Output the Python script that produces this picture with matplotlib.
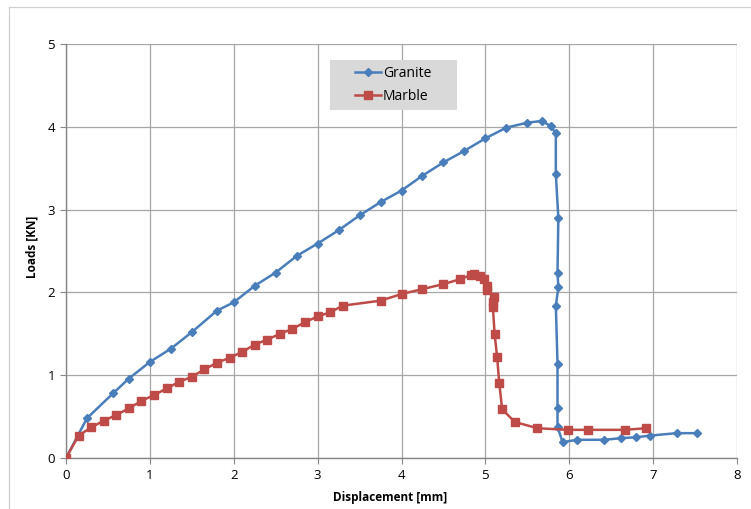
import matplotlib
matplotlib.use("Agg")
import matplotlib.pyplot as plt
from matplotlib.patches import Rectangle
from matplotlib.lines import Line2D

granite_x = [0, 0.25, 0.56, 0.75, 1.0, 1.25, 1.5, 1.8, 2.0, 2.25, 2.5, 2.75, 3.0, 3.25, 3.5, 3.75, 4.0,
             4.25, 4.5, 4.75, 5.0, 5.25, 5.5, 5.67, 5.78, 5.84, 5.84, 5.87, 5.86, 5.87, 5.84, 5.86, 5.86, 5.86,
             5.92, 6.09, 6.42, 6.62, 6.79, 6.96, 7.28, 7.52]
granite_y = [0, 0.48, 0.78, 0.96, 1.16, 1.32, 1.52, 1.78, 1.88, 2.08, 2.24, 2.44, 2.59, 2.75, 2.93, 3.09, 3.23,
             3.41, 3.57, 3.71, 3.86, 3.99, 4.05, 4.07, 4.01, 3.92, 3.43, 2.90, 2.24, 2.06, 1.84, 1.14, 0.60, 0.38,
             0.19, 0.22, 0.22, 0.24, 0.25, 0.27, 0.30, 0.30]

marble_x = [0, 0.15, 0.30, 0.45, 0.60, 0.75, 0.90, 1.05, 1.20, 1.35, 1.50, 1.65, 1.80, 1.95, 2.10, 2.25,
            2.40, 2.55, 2.70, 2.85, 3.0, 3.15, 3.30, 3.75, 4.0, 4.25, 4.5, 4.70, 4.83, 4.87, 4.93, 4.98,
            5.02, 5.02, 5.10, 5.09, 5.09, 5.11, 5.14, 5.165, 5.20, 5.35, 5.62, 5.98, 6.22, 6.66, 6.92]
marble_y = [0, 0.27, 0.37, 0.45, 0.52, 0.60, 0.69, 0.76, 0.84, 0.92, 0.98, 1.07, 1.15, 1.21, 1.28, 1.37,
            1.43, 1.50, 1.56, 1.64, 1.71, 1.76, 1.84, 1.90, 1.98, 2.04, 2.10, 2.16, 2.21, 2.22, 2.20, 2.16,
            2.08, 2.03, 1.95, 1.89, 1.82, 1.50, 1.22, 0.91, 0.59, 0.435, 0.36, 0.34, 0.34, 0.34, 0.36]

x_ticks = [0, 1, 2, 3, 4, 5, 6, 7, 8]
y_ticks = [0, 1, 2, 3, 4, 5]

plt.rcParams['font.family'] = ['Open Sans', 'DejaVu Sans']

fig = plt.figure(figsize=(7.51, 5.09), dpi=100)
ax = fig.add_axes([66/751, 1-458/509, (737-66)/751, (458-44)/509])

blue = '#4A7EBB'
red = '#BE4B48'
ax.plot(granite_x, granite_y, color=blue, lw=1.8, marker='D', ms=4, mec=blue, mfc=blue, label='Granite', zorder=3)
ax.plot(marble_x, marble_y, color=red, lw=1.8, marker='s', ms=6, mec=red, mfc=red, label='Marble', zorder=3)

ax.set_xlim(0, 8)
ax.set_ylim(0, 5)
ax.set_xticks(x_ticks)
ax.set_yticks(y_ticks)
ax.grid(True, color='#A6A6A6', lw=0.9)
ax.set_axisbelow(True)
for s in ['top', 'right']:
    ax.spines[s].set_visible(False)
for s in ['left', 'bottom']:
    ax.spines[s].set_color('#868686')
    ax.spines[s].set_linewidth(1.0)
ax.tick_params(axis='both', length=4, color='#868686', labelsize=9.5, pad=4, direction='out')
ax.set_xlabel('Displacement [mm]', fontsize=8.5, fontweight='bold', va='center')
ax.set_ylabel('Loads [KN]', fontsize=8.5, fontweight='bold', va='center')
ax.xaxis.set_label_coords((390-66)/671, (458-497)/414)
ax.yaxis.set_label_coords((32-66)/671, (458-247)/414)

# legend box
ax.add_patch(Rectangle((0.393, 0.841), 0.189, 0.12, transform=ax.transAxes,
                       facecolor='#D9D9D9', edgecolor='none', zorder=2.5))
leg = ax.legend(loc='center', bbox_to_anchor=(0.393 + 0.189/2, 0.841 + 0.06),
                frameon=False, fontsize=10, handlelength=1.9, borderpad=0.3,
                labelspacing=0.6, handletextpad=0.1, borderaxespad=0)
leg.set_zorder(4)

# chart area border (left and top)
fig.add_artist(Line2D([9/751, 9/751], [0, 1-7/509], transform=fig.transFigure, color='#D0D0D0', lw=0.9))
fig.add_artist(Line2D([9/751, 1], [1-7/509, 1-7/509], transform=fig.transFigure, color='#D0D0D0', lw=0.9))

fig.savefig('out.png', dpi=100)
